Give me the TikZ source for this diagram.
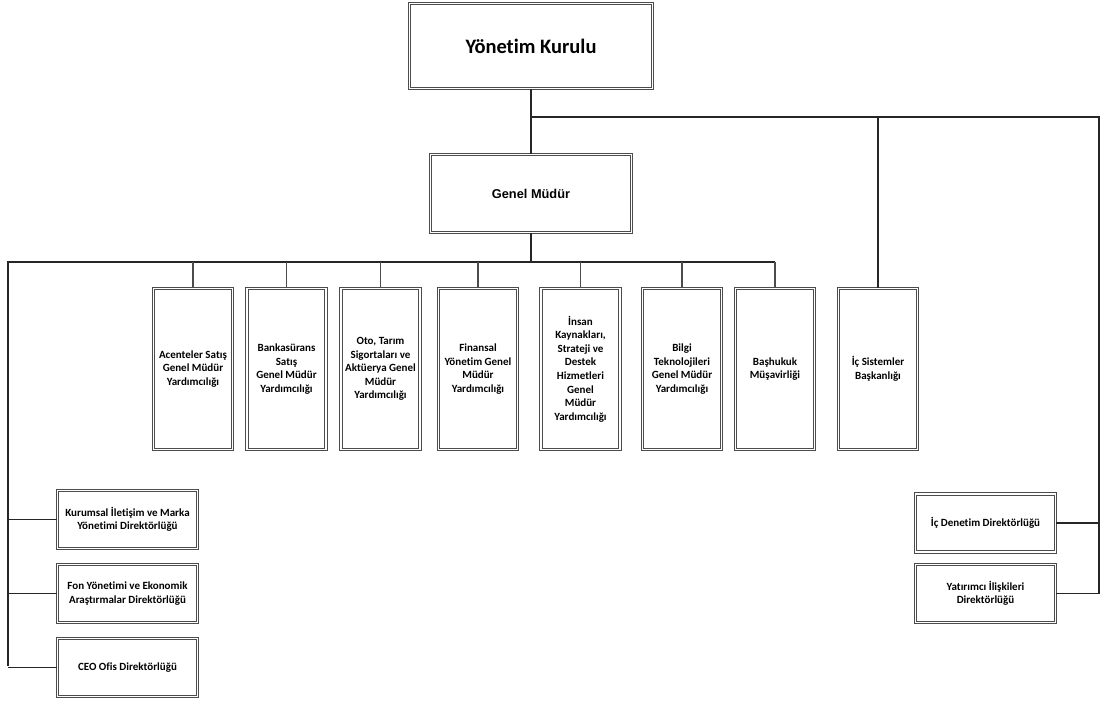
\documentclass[tikz,border=0pt]{standalone}
\usepackage{fontspec}
\setmainfont[Ligatures=NoCommon]{Carlito}
\newfontfamily\arialfont{Liberation Sans}
\usetikzlibrary{positioning}
\tikzstyle{unit}=[draw=black!70, double=white, double distance=1.4pt, line width=1pt, align=center, inner sep=2pt, font=\bfseries\fontsize{11}{13.6}\selectfont]
\tikzstyle{tall}=[unit, minimum width=79pt, minimum height=161pt]
\tikzstyle{wide}=[unit, minimum width=140pt, minimum height=58pt]
\tikzstyle{link}=[draw=black!85, line width=1.1pt]

\begin{document}
\begin{tikzpicture}[x=1pt, y=-1pt]
  \useasboundingbox (0,0) rectangle (1100,704);
  % top of the chart
  \node[unit, minimum width=243pt, minimum height=85pt, font=\bfseries\fontsize{20.5}{24}\selectfont] (board) at (531,46) {Yönetim Kurulu};
  \node[unit, minimum width=201pt, minimum height=78pt, font=\arialfont\bfseries\fontsize{12.8}{15}\selectfont] (ceo) at (531,193.5) {Genel Müdür};
  % assistant general managers
  \node[tall] (acente) at (193,369) {Acenteler Satış\\Genel Müdür\\Yardımcılığı};
  \node[tall] (banka) at (286.5,369) {Bankasürans\\Satış\\Genel Müdür\\Yardımcılığı};
  \node[tall] (oto) at (380.5,369) {Oto, Tarım\\Sigortaları ve\\Aktüerya Genel\\Müdür\\Yardımcılığı};
  \node[tall] (finans) at (478,369) {Finansal\\Yönetim Genel\\Müdür\\Yardımcılığı};
  \node[tall] (insan) at (580.5,369) {İnsan\\Kaynakları,\\Strateji ve\\Destek\\Hizmetleri\\Genel\\Müdür\\Yardımcılığı};
  \node[tall] (bilgi) at (682,369) {Bilgi\\Teknolojileri\\Genel Müdür\\Yardımcılığı};
  \node[tall] (hukuk) at (775,369) {Başhukuk\\Müşavirliği};
  \node[tall] (icsis) at (878,369) {İç Sistemler\\Başkanlığı};
  % directorates
  \node[wide] (kurumsal) at (127.5,519.5) {Kurumsal İletişim ve Marka\\Yönetimi Direktörlüğü};
  \node[wide] (fon) at (127.5,593.5) {Fon Yönetimi ve Ekonomik\\Araştırmalar Direktörlüğü};
  \node[wide] (ofis) at (127.5,667.5) {CEO Ofis Direktörlüğü};
  \node[wide] (denetim) at (985.5,523) {İç Denetim Direktörlüğü};
  \node[wide] (yatirim) at (985.5,593.5) {Yatırımcı İlişkileri\\Direktörlüğü};
  % buses
  \coordinate (topbus) at (531,117);
  \coordinate (rbus) at (1099,117);
  \coordinate (midbus) at (531,262);
  \coordinate (lbus) at (8,262);
  \coordinate (lend) at (8,666);
  \coordinate (rend) at (1099,593.5);
  \draw[link] (board) -- (ceo);
  \draw[link] (topbus) -- (rbus) -- (rend);
  \draw[link] (icsis.north |- topbus) -- (icsis);
  \draw[link] (denetim) -- (denetim -| rbus);
  \draw[link] (yatirim) -- (yatirim -| rbus);
  \draw[link] (ceo) -- (midbus);
  \draw[link] (lend) -- (lbus) -- (hukuk.north |- midbus);
  \foreach \n in {acente, banka, oto, finans, insan, bilgi, hukuk}
    \draw[link, draw=black!70] (\n.north |- midbus) -- (\n);
  \foreach \n in {kurumsal, fon, ofis}
    \draw[link] (\n -| lbus) -- (\n);
\end{tikzpicture}
\end{document}
